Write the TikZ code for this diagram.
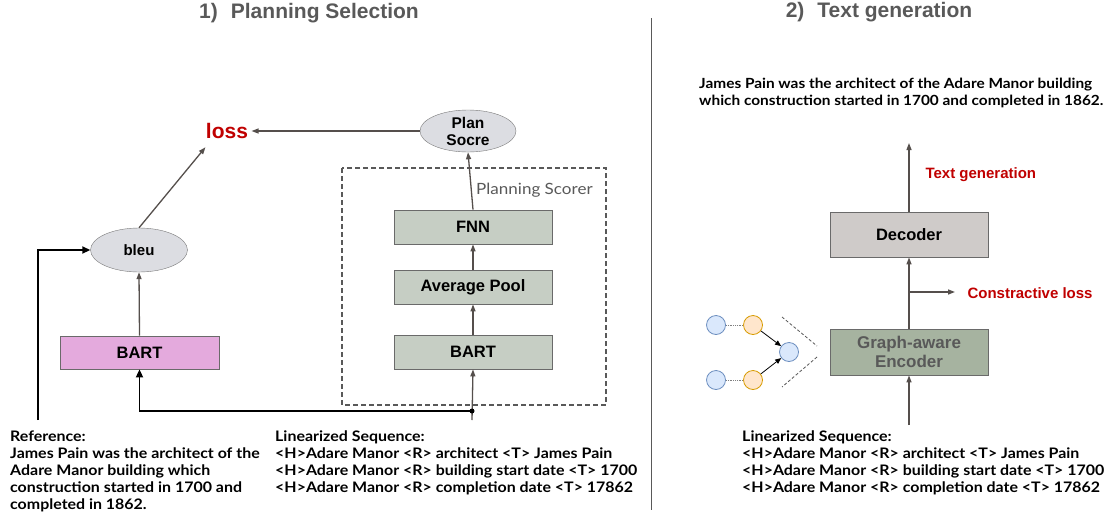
\documentclass[tikz,border=0pt]{standalone}
\usepackage{fontspec}
\usepackage{tikz}
\usetikzlibrary{arrows.meta, positioning, calc, shapes.geometric}
\usepackage{xcolor}
\newfontfamily\arialfont{Liberation Sans}
\newfontfamily\bodyfont{Lato}[FakeStretch=1.1]
\definecolor{psgray}{HTML}{595959}
\definecolor{psline}{HTML}{554F4C}
\definecolor{psred}{HTML}{C00000}
\definecolor{psellipse}{HTML}{DCDDE2}
\definecolor{psgreen}{HTML}{C6CEC4}
\definecolor{pspink}{HTML}{E4AADD}
\definecolor{psdecoder}{HTML}{CFCBC9}
\definecolor{psencoder}{HTML}{A6B3A0}
\definecolor{psblue}{HTML}{DAE8FC}
\definecolor{psblueline}{HTML}{6C8EBF}
\definecolor{psorange}{HTML}{FFE6CC}
\definecolor{psorangeline}{HTML}{D79B00}

\begin{document}
\begin{tikzpicture}[
    x=1pt, y=-1pt,
    title/.style={
        font=\arialfont\bfseries\fontsize{21}{24}\selectfont,
        text=psgray
    },
    oval/.style={
        ellipse,
        draw=psgray!80,
        fill=psellipse,
        inner sep=0pt,
        minimum width=#1,
        font=\arialfont\bfseries\fontsize{15.5}{17}\selectfont,
        align=center
    },
    block/.style={
        rectangle,
        draw=psgray!90,
        line width=0.8pt,
        fill=#1,
        minimum width=158pt,
        minimum height=34pt,
        inner sep=0pt,
        font=\arialfont\bfseries\fontsize{16.5}{19}\selectfont
    },
    flow/.style={
        -{Triangle[length=7pt, width=5pt]},
        draw=psline,
        line width=1.3pt
    },
    feed/.style={
        -{Triangle[length=8pt, width=7pt]},
        draw=black,
        line width=1.8pt
    },
    redlabel/.style={
        font=\arialfont\bfseries\fontsize{15}{17}\selectfont,
        text=psred
    },
    textblock/.style={
        anchor=north west,
        inner sep=0pt,
        align=left,
        font=\bodyfont\bfseries\fontsize{14.5}{17}\selectfont
    },
    dot/.style={
        circle,
        draw=#1line,
        fill=#1,
        line width=0.8pt,
        minimum size=19pt,
        inner sep=0pt
    }
]
\useasboundingbox (0,0) rectangle (1110,517);

% Titles
\node[title] (title1) at (309,13) {1)\hspace{13pt}Planning Selection};
\node[title] (title2) at (879,12) {2)\hspace{13pt}Text generation};
\draw[psgray, line width=1pt] (651,18) -- (651,510);

% Planning selection
\node[redlabel, font=\arialfont\bfseries\fontsize{21}{24}\selectfont] (loss) at (227,131) {loss};
\node[oval=96pt, minimum height=42pt] (plan) at (468,131) {Plan\\Socre};
\node[oval=97pt, minimum height=44pt, font=\arialfont\bfseries\fontsize{15}{17}\selectfont] (bleu) at (139,250) {bleu};
\node[block=pspink, minimum width=159pt, minimum height=33pt] (bart1) at (139.5,352.5) {BART};

% Planning scorer
\draw[psgray, dashed, line width=1.2pt, dash pattern=on 5pt off 3pt] (342,168) rectangle (606,405);
\node[anchor=west, inner sep=0pt, text=psgray, font=\bodyfont\fontsize{15.5}{17}\selectfont] (scorer) at (476,190) {Planning Scorer};
\node[block=psgreen] (fnn) at (473,227) {FNN};
\node[block=psgreen] (avg) at (473,287) {Average Pool};
\node[block=psgreen] (bart2) at (473,352) {BART};

% Arrows
\draw[flow] (plan.west) -- (loss.east);
\draw[flow] (bleu.north) -- ([xshift=3pt, yshift=-5pt]loss.south west);
\draw[flow] (bart1.north) -- (bleu.south);
\draw[flow] (bart2.north) -- (avg.south);
\draw[flow] (avg.north) -- (fnn.south);
\draw[flow] (fnn.north) -- (plan.south);

\coordinate (refin) at (38,420);
\coordinate (split) at (472,411);
\coordinate (seqin) at (472,420);
\draw[feed] (refin) |- (bleu.west);
\draw[feed] (split) -| (bart1.south);
\draw[flow] (seqin) -- (bart2.south);
\fill (split) circle (2.5pt);

% Inputs
\node[textblock] (reference) at (10,431) {Reference:\\James Pain was the architect of the\\Adare Manor building which\\construction started in 1700 and\\completed in 1862.};
\node[textblock] (seq1) at (275,431) {Linearized Sequence:\\<H>Adare Manor <R> architect <T> James Pain\\<H>Adare Manor <R> building start date <T> 1700\\<H>Adare Manor <R> completion date <T> 17862};

% Text generation
\node[textblock, font=\bodyfont\bfseries\fontsize{14}{17}\selectfont] (output) at (699,78) {James Pain was the architect of the Adare Manor building\\which construction started in 1700 and completed in 1862.};
\node[block=psdecoder, minimum height=45pt] (decoder) at (909,234.5) {Decoder};
\node[block=psencoder, minimum height=46pt, text=psgray, font=\arialfont\bfseries\fontsize{17}{19}\selectfont, align=center] (encoder) at (909,352) {Graph-aware\\Encoder};
\coordinate (gentop) at (909,143);
\coordinate (branch) at (909,292);
\coordinate (lossend) at (955,292);
\coordinate (encin) at (909,425);
\draw[flow] (decoder.north) -- (gentop);
\draw[flow] (encoder.north) -- (decoder.south);
\draw[flow] (branch) -- (lossend);
\draw[flow] (encin) -- (encoder.south);
\node[redlabel, anchor=west] (genlabel) at (922,175) {Text generation};
\node[redlabel, anchor=west] (closs) at (964,293) {Constractive loss};

% Graph
\node[dot=psblue] (h1) at (716,325) {};
\node[dot=psorange] (t1) at (753,325) {};
\node[dot=psblue] (h2) at (716,380) {};
\node[dot=psorange] (t2) at (753,380) {};
\node[dot=psblue] (c) at (789,352) {};
\draw[gray, densely dotted, line width=0.8pt] (h1) -- (t1);
\draw[gray, densely dotted, line width=0.8pt] (h2) -- (t2);
\draw[-{Triangle[length=6pt, width=5pt]}, line width=0.8pt] (t1) -- (c);
\draw[-{Triangle[length=6pt, width=5pt]}, line width=0.8pt] (t2) -- (c);
\coordinate (chev1) at (782,317);
\coordinate (chev2) at (817,346);
\coordinate (chev3) at (817,357);
\coordinate (chev4) at (782,387);
\draw[psgray, dashed, line width=0.8pt, dash pattern=on 3pt off 2pt] (chev1) -- (chev2);
\draw[psgray, dashed, line width=0.8pt, dash pattern=on 3pt off 2pt] (chev3) -- (chev4);

\node[textblock] (seq2) at (742,431) {Linearized Sequence:\\<H>Adare Manor <R> architect <T> James Pain\\<H>Adare Manor <R> building start date <T> 1700\\<H>Adare Manor <R> completion date <T> 17862};

\end{tikzpicture}
\end{document}
